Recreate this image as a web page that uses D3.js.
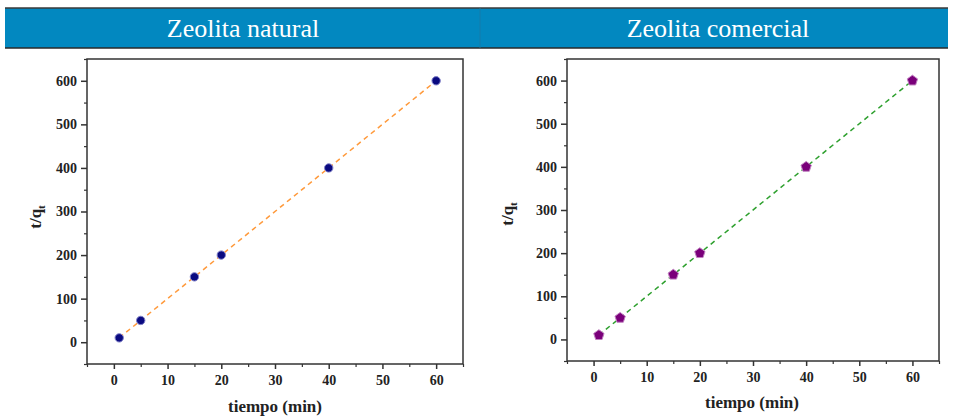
<!DOCTYPE html>
<html>
<head>
<meta charset="utf-8">
<script src="https://cdn.jsdelivr.net/npm/d3@7/dist/d3.min.js"></script>
<style>
  html, body { margin: 0; padding: 0; background: #fff; }
  svg { display: block; }
</style>
</head>
<body>
<div id="chart"></div>
<script>
// data
const tiempo = [1, 5, 15, 20, 40, 60];
const tqNatural = [10, 50, 150, 200, 400, 600];
const tqComercial = [10, 50, 150, 200, 400, 600];
const titles = ['Zeolita natural', 'Zeolita comercial'];
const xTicks = [0, 10, 20, 30, 40, 50, 60];
const yTicks = [0, 100, 200, 300, 400, 500, 600];
const xDomain = [-5, 65];
const yDomain = [-50, 650];

const W = 953, H = 419;
const SERIF = "'Liberation Serif', 'Times New Roman', Times, 'DejaVu Serif', serif";

const svg = d3.select('#chart')
  .append('svg')
  .attr('width', W)
  .attr('height', H);

// header bar
svg.append('rect')
  .attr('x', 5).attr('y', 8)
  .attr('width', 943).attr('height', 40)
  .attr('fill', '#0288c0');
svg.append('line').attr('x1', 5).attr('x2', 948).attr('y1', 8).attr('y2', 8)
  .attr('stroke', '#3a3a3a').attr('stroke-width', 1.5);
svg.append('line').attr('x1', 5).attr('x2', 948).attr('y1', 48).attr('y2', 48)
  .attr('stroke', '#2a2a2a').attr('stroke-width', 1.5);
svg.append('line').attr('x1', 480).attr('x2', 480).attr('y1', 8).attr('y2', 48)
  .attr('stroke', '#1a7aa5').attr('stroke-width', 0.8);

// least squares fit for the dashed line
function linFit(xs, ys) {
  const n = xs.length;
  const mx = d3.mean(xs), my = d3.mean(ys);
  let sxy = 0, sxx = 0;
  for (let i = 0; i < n; i++) {
    sxy += (xs[i] - mx) * (ys[i] - my);
    sxx += (xs[i] - mx) * (xs[i] - mx);
  }
  const slope = sxy / sxx;
  return { slope: slope, intercept: my - slope * mx };
}

// pentagon symbol
const pentagon = {
  draw(ctx, size) {
    const r = Math.sqrt(size / 2.378);
    for (let i = 0; i < 5; i++) {
      const a = -Math.PI / 2 + i * 2 * Math.PI / 5;
      const px = r * Math.cos(a), py = r * Math.sin(a);
      if (i === 0) ctx.moveTo(px, py); else ctx.lineTo(px, py);
    }
    ctx.closePath();
  }
};

function drawPanel(opt) {
  const g = svg.append('g');

  const x = d3.scaleLinear().domain(xDomain).range([opt.left, opt.right]);
  const y = d3.scaleLinear().domain(yDomain).range([opt.bottom, opt.top]);

  // title
  svg.append('text')
    .attr('x', opt.titleX).attr('y', 37)
    .attr('text-anchor', 'middle')
    .attr('fill', '#fff')
    .style('font-family', SERIF)
    .style('font-size', '26px')
    .text(opt.title);

  // frame
  g.append('rect')
    .attr('x', opt.left).attr('y', opt.top)
    .attr('width', opt.right - opt.left)
    .attr('height', opt.bottom - opt.top)
    .attr('fill', 'none')
    .attr('stroke', '#333')
    .attr('stroke-width', 1.5);

  // minor ticks
  const xMinor = d3.range(-5, 66, 10);
  const yMinor = d3.range(-50, 651, 100);
  g.append('g')
    .attr('transform', `translate(0,${opt.bottom})`)
    .call(d3.axisBottom(x).tickValues(xMinor).tickSize(3).tickFormat(''))
    .call(s => s.select('.domain').remove())
    .selectAll('line').attr('stroke', '#333').attr('stroke-width', 1.2);
  g.append('g')
    .attr('transform', `translate(${opt.left},0)`)
    .call(d3.axisLeft(y).tickValues(yMinor).tickSize(3).tickFormat(''))
    .call(s => s.select('.domain').remove())
    .selectAll('line').attr('stroke', '#333').attr('stroke-width', 1.2);

  // major ticks
  const xa = g.append('g')
    .attr('transform', `translate(0,${opt.bottom})`)
    .call(d3.axisBottom(x).tickValues(xTicks).tickSize(5).tickPadding(6));
  xa.select('.domain').remove();
  xa.selectAll('line').attr('stroke', '#333').attr('stroke-width', 1.5);

  const ya = g.append('g')
    .attr('transform', `translate(${opt.left},0)`)
    .call(d3.axisLeft(y).tickValues(yTicks).tickSize(6).tickPadding(4));
  ya.select('.domain').remove();
  ya.selectAll('line').attr('stroke', '#333').attr('stroke-width', 1.5);

  [xa, ya].forEach(a => a
    .attr('font-family', SERIF)
    .attr('font-size', 14)
    .attr('font-weight', 'bold')
    .selectAll('text').attr('fill', '#222'));

  // axis titles
  g.append('text')
    .attr('x', opt.xLabelX).attr('y', opt.xLabelY)
    .attr('text-anchor', 'middle')
    .style('font-family', SERIF)
    .style('font-weight', 'bold')
    .style('font-size', '17px')
    .attr('fill', '#222')
    .text('tiempo (min)');

  const yl = g.append('text')
    .attr('transform', `translate(${opt.yLabelX},${opt.yLabelY}) rotate(-90)`)
    .attr('text-anchor', 'middle')
    .style('font-family', SERIF)
    .style('font-weight', 'bold')
    .style('font-size', '17px')
    .attr('fill', '#222');
  yl.append('tspan').text('t/q');
  yl.append('tspan').attr('dy', 4).style('font-size', '11px').text('t');

  // fit line
  const fit = linFit(tiempo, opt.values);
  const x0 = d3.min(tiempo), x1 = d3.max(tiempo);
  g.append('line')
    .attr('x1', x(x0)).attr('y1', y(fit.slope * x0 + fit.intercept))
    .attr('x2', x(x1)).attr('y2', y(fit.slope * x1 + fit.intercept))
    .attr('stroke', opt.lineColor)
    .attr('stroke-width', 1.5)
    .attr('stroke-dasharray', '5,4');

  // points
  const pts = tiempo.map((t, i) => ({ t: t, v: opt.values[i] }));
  g.selectAll('.pt')
    .data(pts)
    .enter()
    .append('path')
    .attr('class', 'pt')
    .attr('transform', d => `translate(${x(d.t)},${y(d.v)})`)
    .attr('d', d3.symbol().type(opt.symbol).size(opt.symbolSize))
    .attr('fill', opt.markerFill)
    .attr('stroke', opt.markerStroke)
    .attr('stroke-width', 1);
}

drawPanel({
  title: titles[0], titleX: 243,
  left: 87, right: 463, top: 59, bottom: 364,
  values: tqNatural,
  xLabelX: 275, xLabelY: 412, yLabelX: 41, yLabelY: 217,
  lineColor: '#ff9a3c',
  symbol: d3.symbolCircle, symbolSize: 55,
  markerFill: '#0a0a80', markerStroke: '#8080c8'
});

drawPanel({
  title: titles[1], titleX: 718,
  left: 567, right: 939, top: 59, bottom: 361,
  values: tqComercial,
  xLabelX: 752, xLabelY: 408, yLabelX: 513, yLabelY: 214,
  lineColor: '#2ea02e',
  symbol: pentagon, symbolSize: 70,
  markerFill: '#7a007a', markerStroke: '#c080c0'
});
</script>
</body>
</html>
